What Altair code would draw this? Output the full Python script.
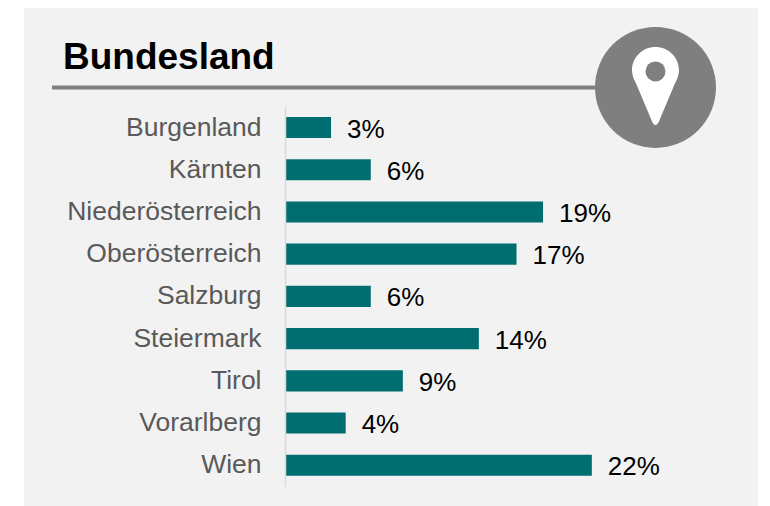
import altair as alt
import pandas as pd

categories = ["Burgenland", "Kärnten", "Niederösterreich", "Oberösterreich", "Salzburg",
              "Steiermark", "Tirol", "Vorarlberg", "Wien"]
values = [3.3, 6.15, 18.5, 16.6, 6.15, 13.9, 8.45, 4.35, 22.0]
labels = ["3%", "6%", "19%", "17%", "6%", "14%", "9%", "4%", "22%"]
title_text = ["Bundesland"]

FONT = "Liberation Sans"
PANEL = "#f2f2f2"
GREY = "#7f7f7f"
TEAL = "#006e70"

df = pd.DataFrame({"cat": categories, "val": values, "label": labels})
one = pd.DataFrame({"title": title_text})

PIN = ("M-0.47 0 A0.47 0.47 0 0 1 0.47 0 C0.47 0.1 0.42 0.2 0.38 0.28 "
       "L0.06 1.04 Q0 1.14 -0.06 1.04 L-0.38 0.28 C-0.42 0.2 -0.47 0.1 -0.47 0 Z")

x_enc = alt.X("val:Q", scale=alt.Scale(domain=[0, 34.2], nice=False, zero=True), axis=None)
y_enc = alt.Y("cat:N", sort=categories,
              scale=alt.Scale(paddingInner=0.5, paddingOuter=0.25),
              axis=alt.Axis(title=None, ticks=False, grid=False, domain=True, zindex=1,
                            domainColor="#d9d9d9", domainWidth=1.5,
                            labelFont=FONT, labelFontSize=26.5, labelColor="#595959",
                            labelPadding=24, labelLimit=260))

panel = alt.Chart(one).mark_rect(color=PANEL).encode(
    x=alt.value(-261), x2=alt.value(473), y=alt.value(-103), y2=alt.value(400))
bars = alt.Chart(df).mark_bar(color=TEAL).encode(x=x_enc, y=y_enc)
text = alt.Chart(df).mark_text(align="left", baseline="middle", dx=16, dy=2,
                               font=FONT, fontSize=26, color="#000000").encode(
    x=x_enc, y=y_enc, text="label:N")
rule = alt.Chart(one).mark_rule(color=GREY, strokeWidth=4).encode(
    x=alt.value(-233), x2=alt.value(320), y=alt.value(-19))
heading = alt.Chart(one).mark_text(align="left", baseline="alphabetic", font=FONT,
                                   fontSize=37, fontWeight="bold", color="#000000").encode(
    x=alt.value(-222), y=alt.value(-37), text="title:N")
circle = alt.Chart(one).mark_point(filled=True, opacity=1, color=GREY, size=14640).encode(
    x=alt.value(370.5), y=alt.value(-19))
pin = alt.Chart(one).mark_point(filled=True, opacity=1, color="#ffffff", shape=PIN, size=10000).encode(
    x=alt.value(370.5), y=alt.value(-36))
hole = alt.Chart(one).mark_point(filled=True, opacity=1, color=GREY, size=400).encode(
    x=alt.value(370.5), y=alt.value(-35))

chart = alt.layer(panel, rule, heading, bars, text, circle, pin, hole).properties(
    width=477, height=380,
    padding={"left": 277, "top": 98.4, "right": 0, "bottom": 20},
    autosize=alt.AutoSizeParams(type="none"),
    background="#ffffff",
).configure_view(stroke=None)

chart.save("out.html", embed_options={"renderer": "svg", "actions": False})
